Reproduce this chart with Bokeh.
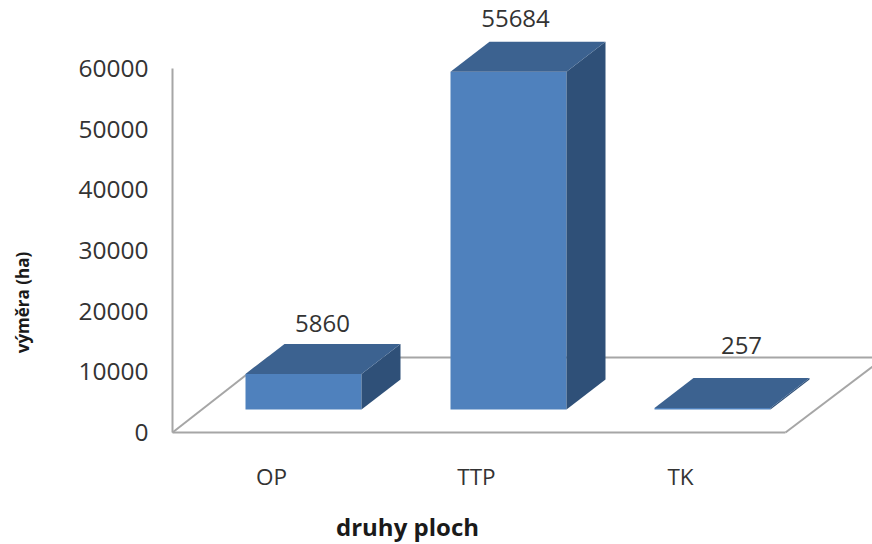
from bokeh.plotting import figure
from bokeh.models import Range1d, LinearAxis, FixedTicker, Label
from bokeh.embed import file_html
from bokeh.resources import INLINE
import math

categories = ["OP", "TTP", "TK"]
values = [5860, 55684, 257]
y_ticks = [0, 10000, 20000, 30000, 40000, 50000, 60000]

WIDTH, HEIGHT = 872, 544
FONT = "Open Sans"
TEXT = "#333333"
AXIS_X = 172

# the frame fills the page; x is in page pixels, y in hectares
# y scale: 0 at page y=432, 60000 at page y=68
per_px = 60000 / 364.0
y0_px = 432


def y_at(page_y):
    return (y0_px - page_y) * per_px


p = figure(width=WIDTH, height=HEIGHT, output_backend="svg", toolbar_location=None,
           x_range=Range1d(0, WIDTH), y_range=Range1d(y_at(HEIGHT), y_at(0)),
           x_axis_type=None, y_axis_type=None,
           min_border_left=0, min_border_right=0, min_border_top=0, min_border_bottom=0,
           outline_line_color=None, background_fill_color="white", border_fill_color="white")
p.grid.visible = False

# floor outline
wall = "#a6a6a6"
back = y_at(357)
p.line([AXIS_X, 785], [0, 0], line_color=wall, line_width=2)
p.line([AXIS_X, 268], [0, back], line_color=wall, line_width=2)
p.line([268, WIDTH], [back, back], line_color=wall, line_width=2)
p.line([785, 884], [0, back], line_color=wall, line_width=2)

centers = [303, 508, 712]
bar_w = 116
base = y_at(409)
off_x, off_y = 39, 30 * per_px
front, side, top = "#4f81bd", "#2f5078", "#3c6290"
for c, v in zip(centers, values):
    l, r = c - bar_w / 2, c + bar_w / 2
    t = base + v
    b = base
    p.patch([l, r, r, l], [b, b, t, t], fill_color=front, line_color=None)
    p.patch([r, r + off_x, r + off_x, r], [b, b + off_y, t + off_y, t], fill_color=side, line_color=None)
    p.patch([l, r, r + off_x, l + off_x], [t, t, t + off_y, t + off_y], fill_color=top, line_color=None)

label_dx = [19, 7, 29]
label_gap = [20, 23, 32]
p.text([c + d for c, d in zip(centers, label_dx)],
       [base + v + off_y + g * per_px for v, g in zip(values, label_gap)],
       text=[str(v) for v in values], text_align="center", text_baseline="alphabetic",
       text_font={"value": FONT}, text_font_size="24px", text_color=TEXT)

yax = LinearAxis(fixed_location=AXIS_X, ticker=FixedTicker(ticks=y_ticks), bounds=(0, 60000),
                 major_label_text_font=FONT, major_label_text_font_size="24.5px", major_label_text_color=TEXT,
                 major_label_standoff=18, major_tick_line_color=None, minor_tick_line_color=None,
                 axis_line_color=wall, axis_line_width=2)
p.add_layout(yax, "left")

tick_x = [c - 32 for c in centers]
xax = LinearAxis(fixed_location=y_at(445), ticker=FixedTicker(ticks=tick_x),
                 major_label_overrides={c: n for c, n in zip(tick_x, categories)},
                 major_label_text_font=FONT, major_label_text_font_size="22.5px", major_label_text_color=TEXT,
                 major_tick_line_color=None, minor_tick_line_color=None, axis_line_color=None,
                 major_label_standoff=9)
p.add_layout(xax, "below")

p.add_layout(Label(x=407, y=y_at(526), text="druhy ploch", text_align="center",
                   text_baseline="middle", text_font=FONT, text_font_style="bold",
                   text_font_size="24px", text_color="#1a1a1a"))
p.add_layout(Label(x=22, y=y_at(302), text="výměra (ha)", text_align="center",
                   text_baseline="middle", angle=math.pi / 2, text_font=FONT, text_font_style="bold",
                   text_font_size="17px", text_color="#1a1a1a"))

open("out.html", "w").write(file_html(p, INLINE))
